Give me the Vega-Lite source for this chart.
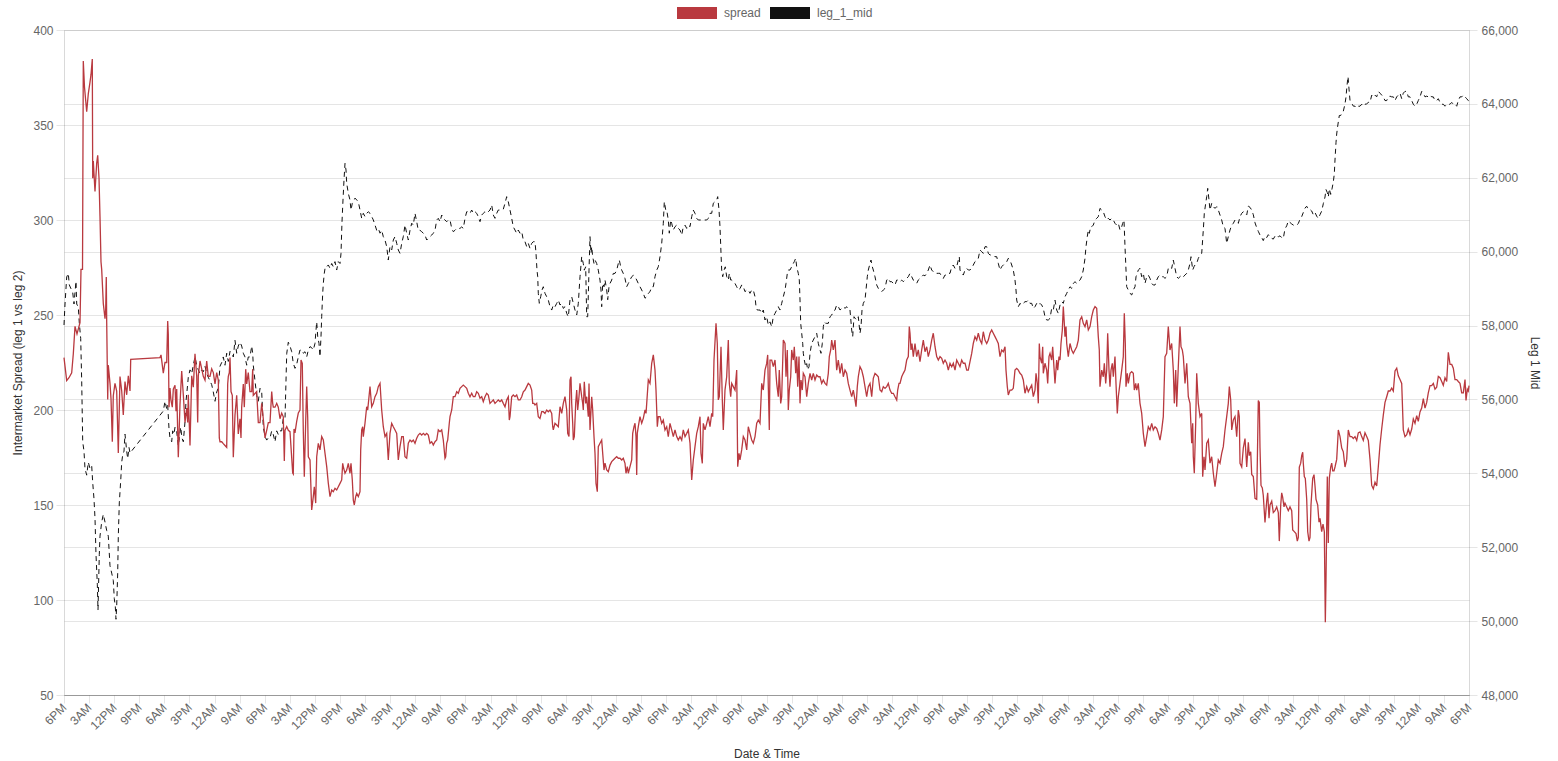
{
"$schema":"https://vega.github.io/schema/vega-lite/v6.json",
"width":1405,"height":665,
"autosize":{"type":"none"},
"padding":{"left":64,"top":30,"right":89,"bottom":66},
"background":"white",
"config":{"font":"Liberation Sans","view":{"stroke":null},
 "axis":{"labelColor":"#666","labelFontSize":12,"titleFontSize":12,"titleFontWeight":"normal","titleColor":"#333","tickSize":8,"tickColor":"#000","tickOpacity":0.1,"gridColor":"#000","gridOpacity":0.1,"domainColor":"#000","domainOpacity":0.15,"labelFont":"Liberation Sans","titleFont":"Liberation Sans"}},
"datasets":{
"sp":[{"h":0,"v":227.6},{"h":0.97,"v":215.5},{"h":1.79,"v":217},{"h":2.76,"v":219.6},{"h":3.34,"v":229.6},{"h":3.95,"v":244},{"h":4.66,"v":240},{"h":5.74,"v":246},{"h":6.1,"v":274},{"h":6.64,"v":274},{"h":6.92,"v":383.7},{"h":7.35,"v":370},{"h":8.14,"v":357},{"h":8.72,"v":366.5},{"h":9.33,"v":372.6},{"h":9.69,"v":376.6},{"h":10.15,"v":384.7},{"h":10.3,"v":322},{"h":10.51,"v":331},{"h":11.12,"v":315},{"h":11.73,"v":330},{"h":12.09,"v":334},{"h":12.56,"v":322},{"h":12.91,"v":302},{"h":13.27,"v":278},{"h":13.52,"v":274},{"h":14.1,"v":256},{"h":14.71,"v":248},{"h":14.96,"v":253},{"h":15.17,"v":270},{"h":15.32,"v":246},{"h":15.68,"v":205.5},{"h":15.89,"v":223.6},{"h":16.5,"v":214},{"h":16.86,"v":206},{"h":17.33,"v":183.3},{"h":17.68,"v":207.5},{"h":18.29,"v":214},{"h":18.9,"v":210},{"h":19.48,"v":177.4},{"h":20.09,"v":217.6},{"h":20.7,"v":210},{"h":21.27,"v":197.4},{"h":21.88,"v":215},{"h":22.49,"v":208},{"h":23.07,"v":218},{"h":23.68,"v":210},{"h":23.93,"v":226.6},{"h":34.44,"v":227.6},{"h":34.8,"v":229},{"h":35.62,"v":219.4},{"h":36.23,"v":225},{"h":36.84,"v":225},{"h":37.2,"v":246.8},{"h":37.41,"v":240},{"h":37.67,"v":201.5},{"h":38.02,"v":211.5},{"h":38.38,"v":205},{"h":38.85,"v":201.5},{"h":39.21,"v":211},{"h":39.82,"v":213},{"h":40.18,"v":199.3},{"h":40.43,"v":211},{"h":41,"v":175.2},{"h":41.61,"v":203},{"h":42.22,"v":220.5},{"h":42.8,"v":208},{"h":43.41,"v":193.4},{"h":44.01,"v":201},{"h":44.37,"v":193.4},{"h":44.59,"v":208},{"h":45.2,"v":181.3},{"h":45.81,"v":218},{"h":46.38,"v":212},{"h":46.99,"v":229.6},{"h":47.6,"v":218},{"h":47.96,"v":193.4},{"h":48.18,"v":218},{"h":48.79,"v":225.8},{"h":49.4,"v":221.7},{"h":49.97,"v":217.7},{"h":50.58,"v":215.7},{"h":51.19,"v":225.8},{"h":51.76,"v":217.7},{"h":52.37,"v":217.7},{"h":52.98,"v":221.7},{"h":53.56,"v":219.7},{"h":54.17,"v":213.7},{"h":54.78,"v":219.7},{"h":55.35,"v":215.7},{"h":55.71,"v":185.3},{"h":55.96,"v":183.3},{"h":56.57,"v":183.3},{"h":57.14,"v":182.3},{"h":57.75,"v":181.3},{"h":58.36,"v":180.3},{"h":58.72,"v":213.7},{"h":58.94,"v":217.7},{"h":59.3,"v":219.7},{"h":59.55,"v":227.6},{"h":59.91,"v":209.7},{"h":60.37,"v":207.7},{"h":60.73,"v":175.2},{"h":61.34,"v":197.4},{"h":61.95,"v":207.7},{"h":62.52,"v":187.4},{"h":63.13,"v":195.4},{"h":63.49,"v":185.3},{"h":63.74,"v":201.5},{"h":64.32,"v":213.7},{"h":64.68,"v":201.5},{"h":65.18,"v":221.5},{"h":65.54,"v":213.7},{"h":66.11,"v":219.7},{"h":66.72,"v":209.7},{"h":67.33,"v":209.7},{"h":67.69,"v":221.5},{"h":67.9,"v":207.7},{"h":68.52,"v":208.7},{"h":69.13,"v":209.7},{"h":69.48,"v":199.5},{"h":69.7,"v":193.4},{"h":70.31,"v":193.4},{"h":70.92,"v":203.5},{"h":71.49,"v":195.4},{"h":72.1,"v":185.3},{"h":72.71,"v":189.3},{"h":73.29,"v":193.4},{"h":73.9,"v":193.4},{"h":74.51,"v":209.7},{"h":74.86,"v":203.5},{"h":75.08,"v":201.5},{"h":75.69,"v":201.5},{"h":76.3,"v":203.5},{"h":76.87,"v":201.5},{"h":77.48,"v":195.4},{"h":78.09,"v":198.4},{"h":78.67,"v":196.4},{"h":79.03,"v":173.2},{"h":79.28,"v":189.3},{"h":79.89,"v":191.3},{"h":80.46,"v":189.3},{"h":81.07,"v":188.6},{"h":82.04,"v":166.8},{"h":82.25,"v":166.3},{"h":82.51,"v":190},{"h":82.86,"v":188},{"h":83.47,"v":194},{"h":84.05,"v":198.4},{"h":84.66,"v":200},{"h":85.02,"v":226.3},{"h":85.48,"v":224.5},{"h":85.84,"v":189},{"h":86.2,"v":164.9},{"h":86.7,"v":194},{"h":87.06,"v":212.3},{"h":87.42,"v":196},{"h":87.64,"v":175.4},{"h":88.25,"v":173.7},{"h":88.85,"v":147.4},{"h":89.43,"v":154.4},{"h":89.79,"v":159.6},{"h":90.29,"v":151},{"h":90.65,"v":175.4},{"h":91.22,"v":182.4},{"h":91.83,"v":179},{"h":92.44,"v":186},{"h":93.02,"v":184.2},{"h":93.63,"v":177.2},{"h":94.24,"v":170.2},{"h":94.81,"v":161.5},{"h":95.42,"v":154.4},{"h":96.03,"v":157.9},{"h":96.6,"v":157},{"h":97.21,"v":158.8},{"h":97.82,"v":157.9},{"h":98.4,"v":159.6},{"h":99.01,"v":161.4},{"h":99.62,"v":163.2},{"h":99.97,"v":171.9},{"h":100.19,"v":170.2},{"h":100.8,"v":166.7},{"h":101.41,"v":168.4},{"h":101.98,"v":171.9},{"h":102.59,"v":166.7},{"h":102.95,"v":171.9},{"h":103.42,"v":163.2},{"h":103.78,"v":152.6},{"h":104.14,"v":150},{"h":104.64,"v":154.4},{"h":105,"v":156.1},{"h":105.57,"v":154.4},{"h":106.18,"v":157},{"h":106.43,"v":179},{"h":106.79,"v":189.5},{"h":107.15,"v":191.2},{"h":107.36,"v":186},{"h":107.97,"v":193},{"h":108.58,"v":201.7},{"h":108.94,"v":200},{"h":109.41,"v":207},{"h":109.77,"v":212.3},{"h":110.38,"v":201.7},{"h":110.95,"v":203.5},{"h":111.56,"v":207},{"h":112.17,"v":208.8},{"h":112.74,"v":212.3},{"h":113.36,"v":214},{"h":113.96,"v":200},{"h":114.54,"v":191.2},{"h":115.15,"v":186},{"h":115.76,"v":187.7},{"h":116.33,"v":173.7},{"h":116.94,"v":187.7},{"h":117.55,"v":193},{"h":118.13,"v":191.2},{"h":118.74,"v":189.5},{"h":119.35,"v":187.7},{"h":119.92,"v":173.7},{"h":120.53,"v":180.7},{"h":121.14,"v":186},{"h":121.71,"v":186},{"h":122.32,"v":175.4},{"h":122.93,"v":174.6},{"h":123.51,"v":182.5},{"h":124.12,"v":184.2},{"h":124.73,"v":183.3},{"h":125.3,"v":184.2},{"h":125.91,"v":182.5},{"h":126.52,"v":185.1},{"h":127.09,"v":186.8},{"h":127.7,"v":187.7},{"h":128.31,"v":186.8},{"h":128.89,"v":187.7},{"h":129.5,"v":186.8},{"h":130.11,"v":187.7},{"h":130.68,"v":186.8},{"h":131.29,"v":182.5},{"h":131.9,"v":183.3},{"h":132.48,"v":181.6},{"h":133.09,"v":183.3},{"h":133.7,"v":184.2},{"h":134.27,"v":189.5},{"h":134.88,"v":188.6},{"h":135.49,"v":189.5},{"h":136.06,"v":184.2},{"h":136.67,"v":174.6},{"h":136.92,"v":175.4},{"h":137.28,"v":182.5},{"h":137.64,"v":184.2},{"h":138.21,"v":193},{"h":138.47,"v":196.5},{"h":139.08,"v":200},{"h":139.65,"v":207},{"h":140.26,"v":207},{"h":140.87,"v":209.6},{"h":141.44,"v":208.8},{"h":142.05,"v":211.4},{"h":142.66,"v":212.3},{"h":143.24,"v":213.1},{"h":143.85,"v":212.3},{"h":144.46,"v":211.4},{"h":145.03,"v":208.8},{"h":145.64,"v":207},{"h":146.25,"v":208.8},{"h":146.83,"v":207},{"h":147.43,"v":207},{"h":148.04,"v":209.6},{"h":148.62,"v":208.8},{"h":149.23,"v":206.2},{"h":149.84,"v":207},{"h":150.41,"v":204.4},{"h":151.02,"v":207},{"h":151.63,"v":208.8},{"h":152.2,"v":207.9},{"h":152.81,"v":203.5},{"h":153.42,"v":204.4},{"h":154,"v":205.3},{"h":154.61,"v":203.5},{"h":155.22,"v":204.4},{"h":155.79,"v":205.3},{"h":156.4,"v":204.4},{"h":157.01,"v":205.3},{"h":157.58,"v":203.5},{"h":158.2,"v":201.7},{"h":158.8,"v":205.3},{"h":159.38,"v":207},{"h":159.74,"v":194.7},{"h":159.99,"v":196.5},{"h":160.6,"v":207},{"h":161.17,"v":207.9},{"h":161.78,"v":207},{"h":162.39,"v":207.9},{"h":162.97,"v":205.3},{"h":163.58,"v":205.3},{"h":164.19,"v":207},{"h":164.76,"v":209.6},{"h":165.37,"v":210.5},{"h":165.98,"v":212.3},{"h":166.55,"v":214},{"h":167.16,"v":213.1},{"h":167.77,"v":210.5},{"h":168.13,"v":203.5},{"h":168.6,"v":203.5},{"h":168.96,"v":202.6},{"h":169.57,"v":203.5},{"h":170.14,"v":196.5},{"h":170.75,"v":195.6},{"h":171.36,"v":199.1},{"h":171.93,"v":199.1},{"h":172.54,"v":198.2},{"h":173.15,"v":200},{"h":173.73,"v":199.1},{"h":174.34,"v":200},{"h":174.95,"v":198.2},{"h":175.31,"v":191.2},{"h":175.52,"v":189.5},{"h":176.13,"v":193},{"h":176.74,"v":192.1},{"h":177.32,"v":191.2},{"h":177.93,"v":201.7},{"h":178.54,"v":198.2},{"h":179.11,"v":203.5},{"h":179.72,"v":207},{"h":180.33,"v":200},{"h":180.69,"v":187.7},{"h":181.15,"v":186},{"h":181.51,"v":215.8},{"h":181.87,"v":217.5},{"h":182.12,"v":203.5},{"h":182.48,"v":193},{"h":182.7,"v":184.2},{"h":183.06,"v":186},{"h":183.56,"v":203.5},{"h":183.92,"v":210.5},{"h":184.27,"v":200},{"h":184.74,"v":207},{"h":185.1,"v":214},{"h":185.71,"v":207},{"h":186.07,"v":203.5},{"h":186.28,"v":200},{"h":186.64,"v":214.9},{"h":187.14,"v":203.5},{"h":187.5,"v":207},{"h":188.08,"v":196.5},{"h":188.33,"v":214},{"h":188.69,"v":189.5},{"h":189.3,"v":207},{"h":189.65,"v":200},{"h":190.12,"v":186},{"h":190.48,"v":177.2},{"h":190.84,"v":161.4},{"h":191.31,"v":157},{"h":191.66,"v":180.7},{"h":192.27,"v":182.5},{"h":192.88,"v":184.2},{"h":193.24,"v":177.2},{"h":193.71,"v":168.4},{"h":194.07,"v":172},{"h":194.68,"v":168.4},{"h":195.25,"v":167.5},{"h":195.86,"v":171},{"h":196.47,"v":172.8},{"h":197.04,"v":173.7},{"h":197.65,"v":174.6},{"h":198.26,"v":175.4},{"h":198.84,"v":174.6},{"h":199.45,"v":174.6},{"h":200.06,"v":173.7},{"h":200.63,"v":174.6},{"h":201.24,"v":171.9},{"h":201.6,"v":166.7},{"h":202.07,"v":170.2},{"h":202.43,"v":166.7},{"h":203.04,"v":170.2},{"h":203.65,"v":173.7},{"h":204,"v":187.7},{"h":204.47,"v":191.2},{"h":204.83,"v":193},{"h":205.19,"v":186},{"h":205.44,"v":165.8},{"h":205.65,"v":187.7},{"h":206.01,"v":191.2},{"h":206.62,"v":196.5},{"h":207.23,"v":193},{"h":207.81,"v":195.6},{"h":208.42,"v":200},{"h":208.78,"v":198.2},{"h":209.03,"v":203.5},{"h":209.6,"v":215.8},{"h":210.21,"v":214},{"h":210.82,"v":224.6},{"h":211.4,"v":229},{"h":212,"v":221},{"h":212.36,"v":210.5},{"h":212.83,"v":191.2},{"h":213.19,"v":196.5},{"h":213.8,"v":196.5},{"h":214.41,"v":193},{"h":214.98,"v":194.7},{"h":215.59,"v":189.5},{"h":216.2,"v":191.2},{"h":216.77,"v":186},{"h":217.38,"v":193},{"h":217.99,"v":189.5},{"h":218.57,"v":186},{"h":219.18,"v":189.5},{"h":219.79,"v":186},{"h":220.36,"v":184.2},{"h":220.97,"v":186},{"h":221.58,"v":184.2},{"h":222.15,"v":189.5},{"h":222.77,"v":186},{"h":223.37,"v":187.7},{"h":223.95,"v":189.5},{"h":224.56,"v":182.5},{"h":225.17,"v":163.2},{"h":225.74,"v":173.7},{"h":226.35,"v":180.7},{"h":226.96,"v":187.7},{"h":227.54,"v":191.2},{"h":228.15,"v":196.5},{"h":228.5,"v":177.2},{"h":228.97,"v":171.9},{"h":229.33,"v":193},{"h":229.94,"v":189.5},{"h":230.55,"v":193},{"h":231.12,"v":196.5},{"h":231.73,"v":191.2},{"h":232.34,"v":198.2},{"h":232.7,"v":196.5},{"h":233.17,"v":226.3},{"h":233.89,"v":245.6},{"h":234.35,"v":235},{"h":234.71,"v":205.3},{"h":235.07,"v":207},{"h":235.68,"v":233.3},{"h":236.15,"v":205.3},{"h":236.5,"v":189.5},{"h":237.11,"v":210.5},{"h":237.72,"v":217.5},{"h":238.3,"v":236.8},{"h":238.66,"v":214},{"h":239.16,"v":207},{"h":239.52,"v":214},{"h":240.09,"v":212.3},{"h":240.7,"v":210.5},{"h":241.31,"v":221},{"h":241.67,"v":170.2},{"h":242.14,"v":177.2},{"h":242.49,"v":173.7},{"h":243.1,"v":179},{"h":243.68,"v":186},{"h":244.29,"v":184.2},{"h":244.9,"v":179},{"h":245.47,"v":191.2},{"h":246.08,"v":187.7},{"h":246.69,"v":184.2},{"h":247.27,"v":182.5},{"h":247.88,"v":186},{"h":248.49,"v":193},{"h":249.06,"v":194.7},{"h":249.67,"v":193},{"h":250.28,"v":214},{"h":250.85,"v":210.5},{"h":251.46,"v":221},{"h":252.07,"v":224.5},{"h":252.43,"v":229},{"h":252.65,"v":212},{"h":253.01,"v":189.5},{"h":253.26,"v":226.3},{"h":253.87,"v":226.3},{"h":254.44,"v":222.8},{"h":255.05,"v":226.3},{"h":255.66,"v":214},{"h":256.23,"v":207},{"h":256.59,"v":221},{"h":257.09,"v":203.5},{"h":257.45,"v":207},{"h":258.03,"v":236.8},{"h":258.64,"v":235},{"h":259,"v":217.5},{"h":259.46,"v":231.6},{"h":259.82,"v":200},{"h":260.18,"v":210.5},{"h":260.68,"v":217.5},{"h":261.04,"v":231.6},{"h":261.61,"v":226.3},{"h":261.97,"v":233.3},{"h":262.48,"v":219.3},{"h":262.83,"v":228.1},{"h":263.19,"v":212.3},{"h":263.66,"v":228.1},{"h":264.02,"v":203.5},{"h":264.38,"v":215.8},{"h":264.84,"v":210.5},{"h":265.2,"v":219.3},{"h":265.81,"v":217.5},{"h":266.42,"v":207},{"h":266.99,"v":214},{"h":267.61,"v":219.3},{"h":268.21,"v":215.8},{"h":268.79,"v":219.3},{"h":269.4,"v":215.8},{"h":270.01,"v":218.4},{"h":270.58,"v":217.5},{"h":271.19,"v":217.5},{"h":271.8,"v":214},{"h":272.38,"v":215.8},{"h":272.99,"v":214},{"h":273.6,"v":213.1},{"h":274.17,"v":219.3},{"h":274.53,"v":228.1},{"h":275.03,"v":231.6},{"h":275.39,"v":236.8},{"h":275.96,"v":231.6},{"h":276.57,"v":236.8},{"h":277.18,"v":221},{"h":277.76,"v":226.3},{"h":278.37,"v":219.3},{"h":278.98,"v":224.6},{"h":279.55,"v":217.5},{"h":280.16,"v":221},{"h":280.77,"v":219.3},{"h":281.34,"v":214},{"h":281.95,"v":210.5},{"h":282.56,"v":207},{"h":283.14,"v":210.5},{"h":283.75,"v":205.3},{"h":284.11,"v":201.7},{"h":284.57,"v":212.3},{"h":284.93,"v":217.5},{"h":285.54,"v":222.8},{"h":286.15,"v":221},{"h":286.73,"v":217.5},{"h":287.33,"v":212.3},{"h":287.94,"v":207},{"h":288.52,"v":212.3},{"h":289.13,"v":214},{"h":289.74,"v":207},{"h":290.31,"v":216.7},{"h":290.92,"v":219.3},{"h":291.53,"v":218.4},{"h":292.11,"v":217.5},{"h":292.72,"v":210.5},{"h":293.33,"v":209.6},{"h":293.9,"v":212.3},{"h":294.51,"v":211.4},{"h":295.12,"v":212.3},{"h":295.69,"v":214},{"h":296.3,"v":210.5},{"h":296.91,"v":208.8},{"h":297.49,"v":208.8},{"h":298.1,"v":207},{"h":298.71,"v":205.3},{"h":299.06,"v":210.5},{"h":299.53,"v":214},{"h":299.89,"v":214},{"h":300.5,"v":217.5},{"h":301.07,"v":219.3},{"h":301.68,"v":221},{"h":302.29,"v":226.3},{"h":302.87,"v":228.1},{"h":303.22,"v":243.9},{"h":303.48,"v":240.4},{"h":303.84,"v":231.6},{"h":304.19,"v":235},{"h":304.66,"v":228.1},{"h":305.27,"v":235},{"h":305.88,"v":228.1},{"h":306.45,"v":231.6},{"h":307.06,"v":225.4},{"h":307.67,"v":231.6},{"h":308.25,"v":236.8},{"h":308.86,"v":230.7},{"h":309.47,"v":233.3},{"h":310.04,"v":228.1},{"h":310.65,"v":231.6},{"h":311.26,"v":236.8},{"h":311.83,"v":240.4},{"h":312.45,"v":233.3},{"h":313.05,"v":228.1},{"h":313.63,"v":226.3},{"h":314.24,"v":228.1},{"h":314.85,"v":227.2},{"h":315.42,"v":224.6},{"h":316.03,"v":226.3},{"h":316.64,"v":224.6},{"h":317.22,"v":221},{"h":317.83,"v":224.6},{"h":318.44,"v":222.8},{"h":319.01,"v":224.6},{"h":319.62,"v":221},{"h":320.23,"v":226.3},{"h":320.8,"v":224.6},{"h":321.41,"v":222.8},{"h":322.02,"v":226.3},{"h":322.6,"v":224.6},{"h":323.21,"v":224.6},{"h":323.82,"v":221},{"h":324.39,"v":221},{"h":325,"v":225.4},{"h":325.61,"v":229.8},{"h":326.18,"v":235},{"h":326.79,"v":238.6},{"h":327.4,"v":236.8},{"h":327.98,"v":240.4},{"h":328.59,"v":236.8},{"h":329.2,"v":235},{"h":329.77,"v":241.2},{"h":330.38,"v":236.8},{"h":330.99,"v":235},{"h":331.56,"v":236.8},{"h":332.17,"v":240.4},{"h":332.78,"v":242.1},{"h":333.36,"v":240.4},{"h":333.97,"v":238.6},{"h":334.58,"v":236.8},{"h":335.15,"v":235},{"h":335.76,"v":228.1},{"h":336.37,"v":231.6},{"h":336.95,"v":230.7},{"h":337.56,"v":233.3},{"h":337.91,"v":221},{"h":338.38,"v":212.3},{"h":338.74,"v":207.9},{"h":339.35,"v":210.5},{"h":339.96,"v":210.5},{"h":340.53,"v":211.4},{"h":341.14,"v":221},{"h":341.75,"v":221.9},{"h":342.33,"v":221},{"h":342.94,"v":219.3},{"h":343.55,"v":218.4},{"h":344.12,"v":215.8},{"h":344.73,"v":208.8},{"h":345.34,"v":212.3},{"h":345.91,"v":209.6},{"h":346.52,"v":211.4},{"h":347.13,"v":213.1},{"h":347.71,"v":207},{"h":348.32,"v":210.5},{"h":348.68,"v":219.3},{"h":349.14,"v":214},{"h":349.5,"v":203.5},{"h":349.86,"v":235},{"h":350.11,"v":228.1},{"h":350.72,"v":224.6},{"h":351.08,"v":233.3},{"h":351.29,"v":219.3},{"h":351.9,"v":224.6},{"h":352.51,"v":221},{"h":352.87,"v":214},{"h":353.34,"v":228.1},{"h":353.7,"v":229.8},{"h":354.3,"v":226.3},{"h":354.66,"v":233.3},{"h":354.88,"v":228.1},{"h":355.49,"v":214},{"h":356.1,"v":226.3},{"h":356.46,"v":221},{"h":356.93,"v":228.1},{"h":357.29,"v":226.3},{"h":357.64,"v":235},{"h":358.11,"v":242},{"h":358.47,"v":254.4},{"h":358.83,"v":245.6},{"h":359.08,"v":238.6},{"h":359.44,"v":243.9},{"h":359.69,"v":235},{"h":360.26,"v":228.1},{"h":360.87,"v":235},{"h":361.48,"v":231.6},{"h":362.06,"v":229.8},{"h":362.67,"v":231.6},{"h":363.28,"v":233.3},{"h":363.85,"v":236.8},{"h":364.46,"v":247.4},{"h":365.07,"v":249.1},{"h":365.64,"v":245.6},{"h":366.25,"v":243.9},{"h":366.86,"v":247.4},{"h":367.44,"v":242.1},{"h":368.05,"v":243.9},{"h":368.66,"v":249.1},{"h":369.23,"v":252.6},{"h":369.84,"v":254.4},{"h":370.45,"v":253.5},{"h":371.02,"v":238.6},{"h":371.38,"v":231.6},{"h":371.63,"v":212.3},{"h":372.24,"v":221},{"h":372.82,"v":217.5},{"h":373.18,"v":224.6},{"h":373.68,"v":214},{"h":374.04,"v":221},{"h":374.39,"v":240.4},{"h":374.86,"v":221},{"h":375.22,"v":212.3},{"h":375.58,"v":221},{"h":376.05,"v":224.6},{"h":376.41,"v":217.5},{"h":377.01,"v":228.1},{"h":377.37,"v":214},{"h":377.84,"v":198.2},{"h":378.2,"v":207},{"h":378.81,"v":214},{"h":379.42,"v":221},{"h":379.99,"v":228.1},{"h":380.35,"v":250.9},{"h":380.71,"v":235},{"h":380.96,"v":212.3},{"h":381.43,"v":219.3},{"h":381.79,"v":214},{"h":382.4,"v":219.3},{"h":383.01,"v":220.2},{"h":383.58,"v":219.3},{"h":383.94,"v":210.5},{"h":384.44,"v":214},{"h":384.8,"v":210.5},{"h":385.37,"v":214},{"h":385.98,"v":203.5},{"h":386.59,"v":198.2},{"h":387.17,"v":187.7},{"h":387.78,"v":180.7},{"h":388.39,"v":186},{"h":388.96,"v":191.2},{"h":389.57,"v":189.5},{"h":390.18,"v":193},{"h":390.75,"v":189.5},{"h":391.36,"v":191.2},{"h":391.97,"v":190.3},{"h":392.55,"v":187.7},{"h":393.16,"v":184.2},{"h":393.77,"v":189.5},{"h":394.34,"v":196.5},{"h":394.95,"v":228.1},{"h":395.56,"v":229.8},{"h":396.13,"v":243.9},{"h":396.74,"v":231.6},{"h":397.35,"v":235},{"h":397.93,"v":221},{"h":398.29,"v":203.5},{"h":398.79,"v":221},{"h":399.15,"v":201.7},{"h":399.72,"v":222.8},{"h":400.33,"v":243.9},{"h":400.69,"v":233.3},{"h":401.16,"v":231.6},{"h":401.52,"v":228.1},{"h":402.13,"v":214},{"h":402.74,"v":224.6},{"h":403.31,"v":207},{"h":403.92,"v":203.5},{"h":404.53,"v":182.5},{"h":404.89,"v":193},{"h":405.1,"v":175.4},{"h":405.46,"v":166.7},{"h":405.96,"v":193},{"h":406.32,"v":219.3},{"h":406.9,"v":203.5},{"h":407.51,"v":196.5},{"h":408.12,"v":198.2},{"h":408.47,"v":164.9},{"h":408.94,"v":175.4},{"h":409.3,"v":168.4},{"h":409.91,"v":182.5},{"h":410.49,"v":184.2},{"h":411.09,"v":172},{"h":411.7,"v":175.4},{"h":412.28,"v":166.7},{"h":412.89,"v":159.6},{"h":413.5,"v":166.7},{"h":414.07,"v":173.7},{"h":414.68,"v":172},{"h":415.29,"v":177.2},{"h":415.86,"v":180.7},{"h":416.47,"v":189.5},{"h":417.08,"v":196.5},{"h":417.66,"v":203.5},{"h":418.02,"v":212.3},{"h":418.52,"v":205.3},{"h":418.88,"v":189.5},{"h":419.45,"v":194.7},{"h":420.06,"v":196.5},{"h":420.67,"v":186},{"h":421.25,"v":200},{"h":421.6,"v":196.5},{"h":421.86,"v":171.9},{"h":422.47,"v":170},{"h":423.04,"v":180},{"h":423.65,"v":185},{"h":424.26,"v":170},{"h":424.84,"v":183},{"h":425.19,"v":176},{"h":425.7,"v":178},{"h":426.05,"v":166.1},{"h":426.63,"v":165},{"h":427.24,"v":153.5},{"h":427.85,"v":153},{"h":428.42,"v":205},{"h":428.78,"v":204},{"h":429.03,"v":180},{"h":429.39,"v":160.3},{"h":429.86,"v":159},{"h":430.21,"v":155},{"h":430.82,"v":140.8},{"h":431.43,"v":152},{"h":431.79,"v":156.4},{"h":432.26,"v":143},{"h":432.62,"v":150},{"h":433.23,"v":152},{"h":433.8,"v":146},{"h":434.41,"v":147},{"h":435.02,"v":149},{"h":435.59,"v":146},{"h":435.95,"v":131},{"h":436.46,"v":150},{"h":436.81,"v":156.4},{"h":437.17,"v":154},{"h":437.64,"v":149},{"h":438,"v":151},{"h":438.61,"v":149},{"h":439.18,"v":147},{"h":439.79,"v":149},{"h":440.4,"v":147},{"h":440.76,"v":136.9},{"h":441.33,"v":136},{"h":441.94,"v":135},{"h":442.41,"v":131},{"h":442.77,"v":133},{"h":443.13,"v":170},{"h":443.63,"v":172},{"h":443.99,"v":176},{"h":444.35,"v":177.8},{"h":444.56,"v":172},{"h":444.92,"v":165},{"h":445.28,"v":164},{"h":445.78,"v":153},{"h":446.14,"v":136},{"h":446.61,"v":131},{"h":446.97,"v":133},{"h":447.32,"v":150},{"h":447.93,"v":164},{"h":448.4,"v":166},{"h":448.76,"v":160},{"h":449.12,"v":153},{"h":449.73,"v":150},{"h":450.19,"v":141},{"h":450.55,"v":143},{"h":451.16,"v":136},{"h":451.63,"v":140},{"h":452.1,"v":136},{"h":452.46,"v":88.3},{"h":452.7,"v":110},{"h":452.96,"v":140},{"h":453.17,"v":165},{"h":453.53,"v":130},{"h":453.89,"v":164},{"h":454.39,"v":170},{"h":454.75,"v":172},{"h":455.11,"v":168},{"h":455.57,"v":168},{"h":455.93,"v":170},{"h":456.54,"v":174},{"h":457.12,"v":189.5},{"h":457.73,"v":186},{"h":458.34,"v":180},{"h":458.91,"v":178},{"h":459.52,"v":170},{"h":460.13,"v":174},{"h":460.7,"v":189.5},{"h":461.31,"v":186},{"h":461.92,"v":186},{"h":462.5,"v":185},{"h":463.11,"v":186},{"h":463.72,"v":184},{"h":464.29,"v":188},{"h":464.9,"v":188.5},{"h":465.51,"v":186},{"h":466.08,"v":184},{"h":466.69,"v":188},{"h":467.3,"v":186},{"h":467.88,"v":184},{"h":468.49,"v":174},{"h":469.1,"v":160.3},{"h":469.67,"v":158.5},{"h":470.28,"v":162},{"h":470.89,"v":160},{"h":471.46,"v":170},{"h":472.08,"v":181.7},{"h":472.68,"v":190},{"h":473.26,"v":197.3},{"h":473.87,"v":204},{"h":474.48,"v":207},{"h":475.05,"v":210},{"h":475.66,"v":210},{"h":476.27,"v":211.5},{"h":476.85,"v":210},{"h":477.46,"v":220.6},{"h":478.07,"v":222},{"h":478.64,"v":218},{"h":479.25,"v":216},{"h":479.86,"v":214},{"h":480.43,"v":189.5},{"h":481.04,"v":186},{"h":481.65,"v":187},{"h":482.23,"v":190},{"h":482.84,"v":187},{"h":483.45,"v":190},{"h":484.02,"v":195.3},{"h":484.63,"v":193},{"h":485.24,"v":197},{"h":485.81,"v":194},{"h":486.42,"v":199},{"h":487.03,"v":201},{"h":487.61,"v":206},{"h":488.22,"v":201},{"h":488.83,"v":204},{"h":489.4,"v":209},{"h":490.01,"v":212.8},{"h":490.62,"v":212.8},{"h":491.2,"v":214},{"h":491.8,"v":211},{"h":492.41,"v":212},{"h":492.99,"v":217.7},{"h":493.6,"v":217},{"h":494.21,"v":215},{"h":494.78,"v":213},{"h":495.39,"v":217},{"h":496,"v":215},{"h":496.58,"v":230.4},{"h":497.19,"v":224},{"h":497.8,"v":224},{"h":498.37,"v":222},{"h":498.98,"v":216},{"h":499.59,"v":216},{"h":500.16,"v":215},{"h":500.77,"v":214},{"h":501.38,"v":209},{"h":501.96,"v":209},{"h":502.57,"v":216},{"h":502.93,"v":205},{"h":503.39,"v":211},{"h":503.75,"v":210},{"h":504,"v":212.8}],
"md":[{"h":0,"v":58015},{"h":0.36,"v":58583},{"h":0.97,"v":59314},{"h":1.54,"v":59411},{"h":1.9,"v":59100},{"h":2.51,"v":58997},{"h":3.12,"v":58900},{"h":3.59,"v":58583},{"h":3.95,"v":58900},{"h":4.3,"v":59200},{"h":4.56,"v":58583},{"h":5.13,"v":58500},{"h":5.49,"v":58068},{"h":5.99,"v":57652},{"h":6.35,"v":56500},{"h":6.71,"v":54855},{"h":7.17,"v":54600},{"h":7.53,"v":54130},{"h":8.14,"v":53950},{"h":8.72,"v":54300},{"h":9.33,"v":54130},{"h":9.94,"v":54200},{"h":10.3,"v":53750},{"h":10.76,"v":53304},{"h":11.12,"v":52785},{"h":11.48,"v":51800},{"h":11.95,"v":51000},{"h":12.2,"v":50300},{"h":12.66,"v":51800},{"h":12.91,"v":52300},{"h":13.52,"v":52682},{"h":14.1,"v":52888},{"h":14.71,"v":52682},{"h":15.32,"v":52450},{"h":15.89,"v":52300},{"h":16.5,"v":51500},{"h":17.11,"v":51300},{"h":17.68,"v":51100},{"h":18.04,"v":50611},{"h":18.4,"v":50400},{"h":18.65,"v":50050},{"h":18.9,"v":50400},{"h":19.26,"v":51300},{"h":19.48,"v":52300},{"h":19.84,"v":53199},{"h":20.34,"v":53800},{"h":20.7,"v":54300},{"h":21.06,"v":54500},{"h":21.52,"v":54600},{"h":21.88,"v":55064},{"h":22.49,"v":54600},{"h":22.85,"v":54400},{"h":23.32,"v":54700},{"h":23.68,"v":54550},{"h":35.62,"v":55687},{"h":36.23,"v":55950},{"h":36.84,"v":55750},{"h":37.2,"v":55850},{"h":37.67,"v":55200},{"h":38.02,"v":54958},{"h":38.63,"v":54855},{"h":38.99,"v":55150},{"h":39.46,"v":55060},{"h":39.82,"v":55250},{"h":40.43,"v":55130},{"h":41,"v":54750},{"h":41.36,"v":54950},{"h":41.86,"v":55250},{"h":42.33,"v":54950},{"h":42.8,"v":54855},{"h":43.41,"v":55400},{"h":43.76,"v":55950},{"h":44.23,"v":56310},{"h":44.59,"v":56600},{"h":45.2,"v":56800},{"h":45.81,"v":56700},{"h":46.38,"v":56926},{"h":46.99,"v":57150},{"h":47.6,"v":56926},{"h":48.18,"v":56800},{"h":48.79,"v":56700},{"h":49.4,"v":56800},{"h":49.97,"v":56750},{"h":50.58,"v":56900},{"h":51.19,"v":56700},{"h":51.76,"v":56600},{"h":52.37,"v":56500},{"h":52.98,"v":56400},{"h":53.56,"v":56201},{"h":54.17,"v":55950},{"h":54.78,"v":56201},{"h":55.35,"v":56310},{"h":55.96,"v":56900},{"h":56.57,"v":57000},{"h":57.14,"v":57150},{"h":57.75,"v":56926},{"h":58.36,"v":57250},{"h":58.94,"v":57030},{"h":59.55,"v":57300},{"h":60.16,"v":57250},{"h":60.73,"v":57150},{"h":61.34,"v":57600},{"h":61.95,"v":57250},{"h":62.52,"v":57446},{"h":63.13,"v":57549},{"h":63.74,"v":57446},{"h":64.32,"v":57250},{"h":64.93,"v":57150},{"h":65.54,"v":56926},{"h":66.11,"v":57150},{"h":66.72,"v":57150},{"h":67.33,"v":57446},{"h":67.69,"v":57250},{"h":67.9,"v":56926},{"h":68.52,"v":56500},{"h":69.13,"v":56098},{"h":69.7,"v":55950},{"h":70.31,"v":56300},{"h":70.92,"v":56200},{"h":71.49,"v":55250},{"h":72.1,"v":55000},{"h":72.71,"v":54900},{"h":73.29,"v":54958},{"h":73.9,"v":54958},{"h":74.51,"v":55150},{"h":75.08,"v":55050},{"h":75.69,"v":54855},{"h":76.3,"v":55150},{"h":76.87,"v":55050},{"h":77.48,"v":55150},{"h":78.09,"v":55150},{"h":78.67,"v":55500},{"h":79.28,"v":55477},{"h":79.89,"v":57237},{"h":80.46,"v":57549},{"h":81.07,"v":57446},{"h":81.68,"v":57292},{"h":82.25,"v":56978},{"h":82.86,"v":56842},{"h":83.47,"v":56950},{"h":84.05,"v":57150},{"h":84.66,"v":57338},{"h":85.27,"v":57338},{"h":85.84,"v":57250},{"h":86.45,"v":57292},{"h":87.06,"v":57150},{"h":87.64,"v":57338},{"h":88.25,"v":57430},{"h":88.85,"v":57400},{"h":89.43,"v":57338},{"h":90.04,"v":57519},{"h":90.4,"v":57879},{"h":90.65,"v":58100},{"h":91.01,"v":57700},{"h":91.47,"v":57519},{"h":91.83,"v":57157},{"h":92.19,"v":57700},{"h":92.44,"v":58239},{"h":92.8,"v":58872},{"h":93.02,"v":59140},{"h":93.37,"v":59414},{"h":93.73,"v":59593},{"h":94.24,"v":59593},{"h":94.81,"v":59640},{"h":95.42,"v":59550},{"h":96.03,"v":59680},{"h":96.6,"v":59593},{"h":97.21,"v":59730},{"h":97.82,"v":59503},{"h":98.4,"v":59730},{"h":99.01,"v":59680},{"h":99.37,"v":59955},{"h":99.72,"v":60800},{"h":100.08,"v":61398},{"h":100.44,"v":61939},{"h":100.8,"v":62391},{"h":101.16,"v":62210},{"h":101.41,"v":61850},{"h":101.98,"v":61580},{"h":102.59,"v":61398},{"h":102.95,"v":61127},{"h":103.42,"v":61310},{"h":103.78,"v":61350},{"h":104.39,"v":61450},{"h":105,"v":61400},{"h":105.57,"v":61350},{"h":106.18,"v":61130},{"h":106.79,"v":60902},{"h":107.36,"v":61038},{"h":107.97,"v":60950},{"h":108.58,"v":61038},{"h":109.16,"v":61080},{"h":109.77,"v":61038},{"h":110.38,"v":60950},{"h":110.95,"v":60860},{"h":111.56,"v":60721},{"h":112.17,"v":60580},{"h":112.74,"v":60630},{"h":113.36,"v":60500},{"h":113.96,"v":60580},{"h":114.54,"v":60406},{"h":115.15,"v":60315},{"h":115.76,"v":60135},{"h":116.33,"v":59774},{"h":116.94,"v":60135},{"h":117.55,"v":60045},{"h":118.13,"v":60315},{"h":118.74,"v":60406},{"h":119.35,"v":60225},{"h":119.92,"v":60045},{"h":120.53,"v":59955},{"h":121.14,"v":60225},{"h":121.71,"v":60406},{"h":122.32,"v":60720},{"h":122.93,"v":60500},{"h":123.51,"v":60315},{"h":124.12,"v":60580},{"h":124.73,"v":60770},{"h":125.3,"v":60720},{"h":125.91,"v":61038},{"h":126.52,"v":60810},{"h":127.09,"v":60580},{"h":127.7,"v":60580},{"h":128.31,"v":60540},{"h":128.89,"v":60500},{"h":129.5,"v":60450},{"h":130.11,"v":60315},{"h":130.68,"v":60360},{"h":131.29,"v":60406},{"h":131.9,"v":60450},{"h":132.48,"v":60500},{"h":133.09,"v":60580},{"h":133.7,"v":60857},{"h":134.27,"v":60902},{"h":134.88,"v":60810},{"h":135.49,"v":60992},{"h":136.06,"v":60902},{"h":136.67,"v":60857},{"h":137.28,"v":60810},{"h":137.86,"v":60857},{"h":138.47,"v":60857},{"h":139.08,"v":60631},{"h":139.65,"v":60540},{"h":140.26,"v":60580},{"h":140.87,"v":60630},{"h":141.44,"v":60630},{"h":142.05,"v":60630},{"h":142.66,"v":60670},{"h":143.24,"v":60630},{"h":143.85,"v":60902},{"h":144.46,"v":61082},{"h":145.03,"v":61082},{"h":145.64,"v":61038},{"h":146.25,"v":61127},{"h":146.83,"v":61038},{"h":147.43,"v":61082},{"h":148.04,"v":61038},{"h":148.62,"v":60947},{"h":149.23,"v":60812},{"h":149.84,"v":60992},{"h":150.41,"v":61038},{"h":151.02,"v":61082},{"h":151.63,"v":61038},{"h":152.2,"v":61082},{"h":152.81,"v":61127},{"h":153.42,"v":61263},{"h":154,"v":60992},{"h":154.61,"v":60902},{"h":155.22,"v":61038},{"h":155.79,"v":61127},{"h":156.4,"v":61127},{"h":157.01,"v":61127},{"h":157.58,"v":61150},{"h":158.2,"v":61309},{"h":158.8,"v":61489},{"h":159.38,"v":61350},{"h":159.99,"v":61127},{"h":160.6,"v":60902},{"h":161.17,"v":60670},{"h":161.78,"v":60586},{"h":162.39,"v":60496},{"h":162.97,"v":60586},{"h":163.58,"v":60496},{"h":164.19,"v":60540},{"h":164.76,"v":60315},{"h":165.37,"v":60270},{"h":165.98,"v":60135},{"h":166.55,"v":60225},{"h":167.16,"v":60090},{"h":167.77,"v":60225},{"h":168.34,"v":60270},{"h":168.96,"v":60270},{"h":169.32,"v":59955},{"h":169.67,"v":59500},{"h":169.93,"v":59322},{"h":170.14,"v":58872},{"h":170.5,"v":58602},{"h":171,"v":58780},{"h":171.47,"v":58962},{"h":171.93,"v":59051},{"h":172.54,"v":58872},{"h":173.15,"v":58780},{"h":173.73,"v":58690},{"h":174.34,"v":58510},{"h":174.95,"v":58420},{"h":175.52,"v":58556},{"h":176.13,"v":58510},{"h":176.74,"v":58600},{"h":177.32,"v":58690},{"h":177.93,"v":58556},{"h":178.54,"v":58600},{"h":179.11,"v":58465},{"h":179.72,"v":58510},{"h":180.33,"v":58330},{"h":180.9,"v":58239},{"h":181.51,"v":58690},{"h":182.12,"v":58780},{"h":182.7,"v":58600},{"h":183.31,"v":58420},{"h":183.92,"v":58285},{"h":184.49,"v":58600},{"h":185.1,"v":59322},{"h":185.71,"v":59864},{"h":186.28,"v":59680},{"h":186.64,"v":59500},{"h":187.14,"v":59590},{"h":187.5,"v":58239},{"h":187.86,"v":58239},{"h":188.33,"v":59500},{"h":188.69,"v":60406},{"h":189.05,"v":59955},{"h":189.3,"v":60135},{"h":189.65,"v":59864},{"h":190.12,"v":59680},{"h":190.48,"v":59774},{"h":191.09,"v":59680},{"h":191.66,"v":59500},{"h":192.27,"v":59232},{"h":192.63,"v":58962},{"h":192.88,"v":58510},{"h":193.24,"v":59140},{"h":193.71,"v":59051},{"h":194.07,"v":59232},{"h":194.68,"v":58962},{"h":195.04,"v":58700},{"h":195.5,"v":59051},{"h":195.86,"v":59140},{"h":196.47,"v":59232},{"h":197.04,"v":59411},{"h":197.65,"v":59411},{"h":198.26,"v":59500},{"h":198.84,"v":59680},{"h":199.2,"v":59774},{"h":199.7,"v":59593},{"h":200.06,"v":59500},{"h":200.63,"v":59411},{"h":201.24,"v":59274},{"h":201.85,"v":59051},{"h":202.43,"v":59140},{"h":203.04,"v":59232},{"h":203.65,"v":59322},{"h":204.22,"v":59360},{"h":204.83,"v":59322},{"h":205.44,"v":59232},{"h":206.01,"v":59140},{"h":206.62,"v":59051},{"h":207.23,"v":58962},{"h":207.81,"v":58872},{"h":208.42,"v":58740},{"h":209.03,"v":58780},{"h":209.6,"v":58872},{"h":210.21,"v":58917},{"h":210.82,"v":59051},{"h":211.4,"v":59051},{"h":212,"v":59322},{"h":212.61,"v":59500},{"h":213.19,"v":59593},{"h":213.8,"v":59864},{"h":214.41,"v":60225},{"h":214.98,"v":60767},{"h":215.34,"v":61353},{"h":215.85,"v":61130},{"h":216.2,"v":61130},{"h":216.77,"v":60857},{"h":217.13,"v":60500},{"h":217.64,"v":60857},{"h":217.99,"v":60767},{"h":218.57,"v":60586},{"h":219.18,"v":60676},{"h":219.79,"v":60720},{"h":220.36,"v":60630},{"h":220.97,"v":60586},{"h":221.58,"v":60450},{"h":222.15,"v":60676},{"h":222.77,"v":60720},{"h":223.37,"v":60630},{"h":223.95,"v":60720},{"h":224.56,"v":60676},{"h":225.17,"v":60947},{"h":225.74,"v":61127},{"h":226.35,"v":61038},{"h":226.96,"v":60902},{"h":227.54,"v":60857},{"h":228.15,"v":60857},{"h":228.76,"v":60857},{"h":229.33,"v":60857},{"h":229.94,"v":60857},{"h":230.55,"v":60857},{"h":231.12,"v":60902},{"h":231.73,"v":61038},{"h":232.34,"v":61038},{"h":232.92,"v":61309},{"h":233.53,"v":61353},{"h":234.14,"v":61398},{"h":234.5,"v":61489},{"h":234.96,"v":61130},{"h":235.32,"v":60676},{"h":235.68,"v":59955},{"h":235.93,"v":59500},{"h":236.29,"v":59322},{"h":236.76,"v":59500},{"h":237.22,"v":59590},{"h":237.72,"v":59322},{"h":238.3,"v":59232},{"h":238.66,"v":59411},{"h":239.16,"v":59232},{"h":239.52,"v":59232},{"h":240.09,"v":59190},{"h":240.7,"v":59140},{"h":241.31,"v":59051},{"h":241.88,"v":58962},{"h":242.49,"v":59000},{"h":243.1,"v":59100},{"h":243.68,"v":59051},{"h":244.29,"v":58917},{"h":244.9,"v":58962},{"h":245.47,"v":58962},{"h":246.08,"v":58872},{"h":246.69,"v":58962},{"h":247.27,"v":58962},{"h":247.88,"v":58780},{"h":248.24,"v":58510},{"h":248.7,"v":58420},{"h":249.06,"v":58420},{"h":249.67,"v":58420},{"h":250.28,"v":58330},{"h":250.85,"v":58420},{"h":251.46,"v":58150},{"h":252.07,"v":58240},{"h":252.65,"v":58015},{"h":253.26,"v":58100},{"h":253.87,"v":57969},{"h":254.44,"v":58240},{"h":255.05,"v":58330},{"h":255.66,"v":58420},{"h":256.23,"v":58510},{"h":256.84,"v":58420},{"h":257.45,"v":58600},{"h":258.03,"v":58780},{"h":258.64,"v":58962},{"h":259,"v":59140},{"h":259.46,"v":59410},{"h":259.82,"v":59503},{"h":260.43,"v":59503},{"h":261.04,"v":59593},{"h":261.61,"v":59680},{"h":261.97,"v":59730},{"h":262.48,"v":59820},{"h":262.83,"v":59590},{"h":263.41,"v":59411},{"h":263.77,"v":59232},{"h":264.02,"v":58691},{"h":264.27,"v":58060},{"h":264.63,"v":57790},{"h":264.99,"v":57519},{"h":265.2,"v":57250},{"h":265.56,"v":57067},{"h":266.06,"v":56886},{"h":266.42,"v":56970},{"h":266.78,"v":56800},{"h":267.25,"v":56886},{"h":267.61,"v":57250},{"h":268.21,"v":57519},{"h":268.79,"v":57608},{"h":269.4,"v":57700},{"h":270.01,"v":57790},{"h":270.58,"v":57519},{"h":271.19,"v":57338},{"h":271.55,"v":57248},{"h":272.02,"v":57519},{"h":272.38,"v":57969},{"h":272.73,"v":58100},{"h":273.24,"v":58060},{"h":273.6,"v":58060},{"h":274.17,"v":58060},{"h":274.78,"v":58240},{"h":275.39,"v":58285},{"h":275.96,"v":58375},{"h":276.57,"v":58420},{"h":277.18,"v":58556},{"h":277.76,"v":58510},{"h":278.37,"v":58420},{"h":278.98,"v":58465},{"h":279.55,"v":58510},{"h":280.16,"v":58465},{"h":280.77,"v":58510},{"h":281.34,"v":58420},{"h":281.95,"v":58420},{"h":282.56,"v":57879},{"h":282.92,"v":57700},{"h":283.39,"v":58240},{"h":283.75,"v":58200},{"h":284.36,"v":58150},{"h":284.93,"v":58240},{"h":285.54,"v":57789},{"h":285.9,"v":57969},{"h":286.26,"v":58420},{"h":286.73,"v":58602},{"h":287.33,"v":58690},{"h":287.69,"v":58962},{"h":288.16,"v":59322},{"h":288.52,"v":59503},{"h":289.13,"v":59680},{"h":289.48,"v":59774},{"h":289.95,"v":59593},{"h":290.31,"v":59503},{"h":290.92,"v":59322},{"h":291.53,"v":59097},{"h":292.11,"v":59006},{"h":292.72,"v":58962},{"h":293.33,"v":58917},{"h":293.9,"v":58962},{"h":294.51,"v":59006},{"h":295.12,"v":59232},{"h":295.69,"v":59277},{"h":296.3,"v":59187},{"h":296.91,"v":59187},{"h":297.49,"v":59142},{"h":298.1,"v":59097},{"h":298.71,"v":59232},{"h":299.28,"v":59232},{"h":299.89,"v":59187},{"h":300.5,"v":59232},{"h":301.07,"v":59187},{"h":301.68,"v":59232},{"h":302.29,"v":59277},{"h":302.87,"v":59322},{"h":303.48,"v":59414},{"h":304.09,"v":59322},{"h":304.66,"v":59232},{"h":305.27,"v":59187},{"h":305.88,"v":59142},{"h":306.45,"v":59232},{"h":307.06,"v":59277},{"h":307.67,"v":59322},{"h":308.25,"v":59367},{"h":308.86,"v":59346},{"h":309.47,"v":59414},{"h":310.04,"v":59503},{"h":310.65,"v":59639},{"h":311.26,"v":59503},{"h":311.83,"v":59458},{"h":312.45,"v":59458},{"h":313.05,"v":59414},{"h":313.63,"v":59414},{"h":314.24,"v":59414},{"h":314.85,"v":59322},{"h":315.42,"v":59277},{"h":316.03,"v":59367},{"h":316.64,"v":59367},{"h":317.22,"v":59414},{"h":317.83,"v":59414},{"h":318.44,"v":59593},{"h":319.01,"v":59639},{"h":319.62,"v":59548},{"h":320.23,"v":59593},{"h":320.8,"v":59774},{"h":321.16,"v":59864},{"h":321.41,"v":59503},{"h":322.02,"v":59414},{"h":322.6,"v":59367},{"h":323.21,"v":59503},{"h":323.82,"v":59548},{"h":324.39,"v":59503},{"h":325,"v":59503},{"h":325.61,"v":59548},{"h":326.18,"v":59639},{"h":326.79,"v":59729},{"h":327.4,"v":59774},{"h":327.98,"v":59820},{"h":328.59,"v":60045},{"h":329.2,"v":60000},{"h":329.77,"v":59955},{"h":330.38,"v":60135},{"h":330.99,"v":60135},{"h":331.56,"v":59955},{"h":332.17,"v":59910},{"h":332.78,"v":59910},{"h":333.36,"v":59910},{"h":333.97,"v":59864},{"h":334.58,"v":59864},{"h":335.15,"v":59684},{"h":335.76,"v":59503},{"h":336.37,"v":59593},{"h":336.95,"v":59639},{"h":337.56,"v":59684},{"h":338.17,"v":59729},{"h":338.74,"v":59820},{"h":339.35,"v":59774},{"h":339.96,"v":59639},{"h":340.53,"v":59503},{"h":341.14,"v":59232},{"h":341.5,"v":58962},{"h":341.75,"v":58691},{"h":342.33,"v":58510},{"h":342.94,"v":58602},{"h":343.55,"v":58556},{"h":344.12,"v":58602},{"h":344.73,"v":58647},{"h":345.34,"v":58647},{"h":345.91,"v":58691},{"h":346.52,"v":58602},{"h":347.13,"v":58602},{"h":347.71,"v":58465},{"h":348.32,"v":58510},{"h":348.93,"v":58602},{"h":349.5,"v":58556},{"h":350.11,"v":58602},{"h":350.72,"v":58556},{"h":351.29,"v":58465},{"h":351.9,"v":58239},{"h":352.51,"v":58150},{"h":353.09,"v":58150},{"h":353.7,"v":58195},{"h":354.3,"v":58465},{"h":354.88,"v":58420},{"h":355.49,"v":58691},{"h":356.1,"v":58420},{"h":356.67,"v":58330},{"h":357.29,"v":58556},{"h":357.9,"v":58647},{"h":358.47,"v":58602},{"h":359.08,"v":58780},{"h":359.69,"v":58872},{"h":360.26,"v":58962},{"h":360.87,"v":59051},{"h":361.48,"v":59006},{"h":362.06,"v":59142},{"h":362.67,"v":59187},{"h":363.28,"v":59142},{"h":363.85,"v":59187},{"h":364.46,"v":59232},{"h":365.07,"v":59322},{"h":365.64,"v":59503},{"h":366.25,"v":59820},{"h":366.61,"v":60135},{"h":367.07,"v":60406},{"h":367.44,"v":60586},{"h":367.8,"v":60496},{"h":368.3,"v":60676},{"h":368.66,"v":60676},{"h":369.23,"v":60720},{"h":369.84,"v":60857},{"h":370.45,"v":60902},{"h":371.02,"v":60947},{"h":371.63,"v":61172},{"h":372.24,"v":61127},{"h":372.82,"v":61082},{"h":373.43,"v":60947},{"h":374.04,"v":60857},{"h":374.61,"v":60902},{"h":375.22,"v":60857},{"h":375.83,"v":60902},{"h":376.41,"v":60857},{"h":377.01,"v":60767},{"h":377.62,"v":60720},{"h":378.2,"v":60767},{"h":378.81,"v":60586},{"h":379.42,"v":60676},{"h":379.77,"v":60767},{"h":380.24,"v":60857},{"h":380.6,"v":60135},{"h":380.96,"v":59503},{"h":381.21,"v":59051},{"h":381.79,"v":58962},{"h":382.4,"v":58872},{"h":383.01,"v":58827},{"h":383.58,"v":58962},{"h":384.19,"v":59051},{"h":384.55,"v":59322},{"h":385.01,"v":59411},{"h":385.37,"v":59503},{"h":385.98,"v":59548},{"h":386.59,"v":59322},{"h":387.17,"v":59411},{"h":387.78,"v":59142},{"h":388.39,"v":59322},{"h":388.96,"v":59367},{"h":389.57,"v":59277},{"h":390.18,"v":59142},{"h":390.75,"v":59097},{"h":391.36,"v":59097},{"h":391.97,"v":59232},{"h":392.55,"v":59322},{"h":393.16,"v":59367},{"h":393.77,"v":59322},{"h":394.34,"v":59322},{"h":394.95,"v":59277},{"h":395.56,"v":59322},{"h":396.13,"v":59548},{"h":396.74,"v":59593},{"h":397.35,"v":59548},{"h":397.93,"v":59774},{"h":398.54,"v":59548},{"h":399.15,"v":59322},{"h":399.72,"v":59277},{"h":400.33,"v":59322},{"h":400.94,"v":59367},{"h":401.52,"v":59322},{"h":402.13,"v":59367},{"h":402.74,"v":59414},{"h":403.31,"v":59503},{"h":403.92,"v":59684},{"h":404.28,"v":59864},{"h":404.89,"v":59503},{"h":405.35,"v":59593},{"h":405.71,"v":59639},{"h":406.32,"v":59684},{"h":406.9,"v":59820},{"h":407.51,"v":59910},{"h":408.12,"v":59955},{"h":408.69,"v":60586},{"h":409.05,"v":61038},{"h":409.55,"v":61309},{"h":409.91,"v":61489},{"h":410.27,"v":61714},{"h":410.73,"v":61400},{"h":411.09,"v":61127},{"h":411.7,"v":61309},{"h":412.28,"v":61218},{"h":412.89,"v":61172},{"h":413.5,"v":61218},{"h":414.07,"v":61127},{"h":414.68,"v":60992},{"h":415.29,"v":60857},{"h":415.86,"v":60676},{"h":416.47,"v":60631},{"h":417.08,"v":60225},{"h":417.66,"v":60406},{"h":418.27,"v":60586},{"h":418.88,"v":60720},{"h":419.45,"v":60767},{"h":420.06,"v":60857},{"h":420.67,"v":60812},{"h":421.25,"v":60767},{"h":421.86,"v":60947},{"h":422.47,"v":61038},{"h":423.04,"v":61082},{"h":423.65,"v":61038},{"h":424.26,"v":60992},{"h":424.84,"v":61233},{"h":425.44,"v":61200},{"h":426.05,"v":61127},{"h":426.63,"v":61000},{"h":427.24,"v":60781},{"h":427.85,"v":60650},{"h":428.42,"v":60550},{"h":429.03,"v":60450},{"h":429.64,"v":60381},{"h":430.21,"v":60300},{"h":430.82,"v":60420},{"h":431.43,"v":60381},{"h":432.01,"v":60460},{"h":432.62,"v":60400},{"h":433.23,"v":60360},{"h":433.8,"v":60340},{"h":434.41,"v":60420},{"h":435.02,"v":60450},{"h":435.59,"v":60400},{"h":436.2,"v":60430},{"h":436.81,"v":60380},{"h":437.38,"v":60360},{"h":438,"v":60620},{"h":438.61,"v":60700},{"h":439.18,"v":60830},{"h":439.79,"v":60790},{"h":440.4,"v":60750},{"h":440.97,"v":60720},{"h":441.58,"v":60700},{"h":442.19,"v":60720},{"h":442.77,"v":60760},{"h":443.38,"v":60880},{"h":443.99,"v":60950},{"h":444.56,"v":61060},{"h":445.17,"v":61181},{"h":445.78,"v":61230},{"h":446.36,"v":61140},{"h":446.97,"v":61140},{"h":447.58,"v":61100},{"h":448.15,"v":61000},{"h":448.76,"v":61060},{"h":449.37,"v":60960},{"h":449.94,"v":60900},{"h":450.55,"v":61000},{"h":451.16,"v":61100},{"h":451.74,"v":61300},{"h":452.35,"v":61480},{"h":452.7,"v":61682},{"h":453.17,"v":61600},{"h":453.53,"v":61480},{"h":453.89,"v":61700},{"h":454.39,"v":61550},{"h":454.86,"v":61700},{"h":455.32,"v":61885},{"h":455.68,"v":62100},{"h":455.93,"v":62481},{"h":456.29,"v":62950},{"h":456.54,"v":63185},{"h":456.9,"v":63400},{"h":457.48,"v":63686},{"h":457.98,"v":63686},{"h":458.34,"v":63750},{"h":458.91,"v":63800},{"h":459.52,"v":64000},{"h":459.88,"v":64186},{"h":460.24,"v":64500},{"h":460.6,"v":64738},{"h":460.96,"v":64400},{"h":461.31,"v":64100},{"h":461.67,"v":64040},{"h":462.14,"v":63990},{"h":462.5,"v":63940},{"h":463.11,"v":63937},{"h":463.72,"v":63890},{"h":464.29,"v":63937},{"h":464.9,"v":63937},{"h":465.51,"v":63990},{"h":466.08,"v":63937},{"h":466.69,"v":63990},{"h":467.3,"v":64000},{"h":467.88,"v":64040},{"h":468.49,"v":64040},{"h":469.1,"v":64238},{"h":469.67,"v":64190},{"h":470.28,"v":64238},{"h":470.89,"v":64190},{"h":471.46,"v":64338},{"h":472.08,"v":64290},{"h":472.68,"v":64238},{"h":473.26,"v":64190},{"h":473.87,"v":64090},{"h":474.48,"v":64090},{"h":475.05,"v":64190},{"h":475.66,"v":64210},{"h":476.27,"v":64190},{"h":476.85,"v":64190},{"h":477.46,"v":64090},{"h":478.07,"v":64190},{"h":478.64,"v":64238},{"h":479.25,"v":64290},{"h":479.86,"v":64140},{"h":480.43,"v":64290},{"h":481.04,"v":64338},{"h":481.65,"v":64338},{"h":482.23,"v":64190},{"h":482.84,"v":64190},{"h":483.45,"v":64090},{"h":484.02,"v":63990},{"h":484.63,"v":63937},{"h":485.24,"v":63990},{"h":485.81,"v":64090},{"h":486.42,"v":64190},{"h":487.03,"v":64338},{"h":487.61,"v":64290},{"h":488.22,"v":64190},{"h":488.83,"v":64210},{"h":489.4,"v":64190},{"h":490.01,"v":64238},{"h":490.62,"v":64190},{"h":491.2,"v":64190},{"h":491.8,"v":64090},{"h":492.41,"v":64090},{"h":492.99,"v":64140},{"h":493.6,"v":64040},{"h":494.21,"v":63990},{"h":494.78,"v":63990},{"h":495.39,"v":63937},{"h":496,"v":63990},{"h":496.58,"v":63990},{"h":497.19,"v":63990},{"h":497.8,"v":64040},{"h":498.37,"v":63990},{"h":498.98,"v":63990},{"h":499.59,"v":63937},{"h":500.16,"v":64090},{"h":500.77,"v":64190},{"h":501.38,"v":64190},{"h":501.96,"v":64238},{"h":502.57,"v":64190},{"h":503.18,"v":64140},{"h":503.75,"v":64090},{"h":504,"v":64050}]
},
"encoding":{
 "x":{"field":"h","type":"quantitative","scale":{"domain":[0,504],"nice":false,"zero":false},
  "axis":{"values":[0,9,18,27,36,45,54,63,72,81,90,99,108,117,126,135,144,153,162,171,180,189,198,207,216,225,234,243,252,261,270,279,288,297,306,315,324,333,342,351,360,369,378,387,396,405,414,423,432,441,450,459,468,477,486,495,504],
  "labelExpr":"(18 + datum.value) % 24 == 0 ? '12AM' : (18 + datum.value) % 24 < 12 ? ((18 + datum.value) % 24) + 'AM' : (18 + datum.value) % 24 == 12 ? '12PM' : ((18 + datum.value) % 24 - 12) + 'PM'",
  "labelAngle":-45,"labelAlign":"right","labelBaseline":"middle","labelPadding":2,"labelOverlap":false,"labelFlush":false,"labelBound":false,
  "grid":false,"title":"Date & Time","titlePadding":17,"domainOpacity":0.25}}
},
"layer":[
 {"data":{"name":"md"},
  "mark":{"type":"line","strokeDash":[5,4],"strokeWidth":1,"interpolate":"linear"},
  "encoding":{
   "y":{"field":"v","type":"quantitative","scale":{"domain":[48000,66000],"nice":false,"zero":false},
    "axis":{"orient":"right","values":[48000,50000,52000,54000,56000,58000,60000,62000,64000,66000],"format":",d","title":"Leg 1 Mid","grid":true,"labelPadding":4,"titlePadding":10}},
   "color":{"datum":"leg_1_mid","type":"nominal"}}},
 {"data":{"name":"sp"},
  "mark":{"type":"line","strokeWidth":1.3,"interpolate":"linear"},
  "encoding":{
   "y":{"field":"v","type":"quantitative","scale":{"domain":[50,400],"nice":false,"zero":false},
    "axis":{"orient":"left","values":[50,100,150,200,250,300,350,400],"format":"d","title":"Intermarket Spread (leg 1 vs leg 2)","grid":true,"labelPadding":3,"titlePadding":8}},
   "color":{"datum":"spread","type":"nominal",
    "scale":{"domain":["spread","leg_1_mid"],"range":["#b9393f","#111111"]},
    "legend":{"orient":"none","legendX":613,"legendY":-37,"direction":"horizontal","title":null,
     "symbolType":"M-1,-0.3H1V0.3H-1Z","symbolSize":1600,"symbolStrokeWidth":0,"symbolOpacity":1,
     "labelFontSize":12,"labelColor":"#666","labelFont":"Liberation Sans","labelOffset":7,"columnPadding":9,
     "encode":{"symbols":{"update":{"fill":{"scale":"color","field":"value"},"stroke":{"value":"transparent"}}}}}}}}
],
"resolve":{"scale":{"y":"independent"}}
}
